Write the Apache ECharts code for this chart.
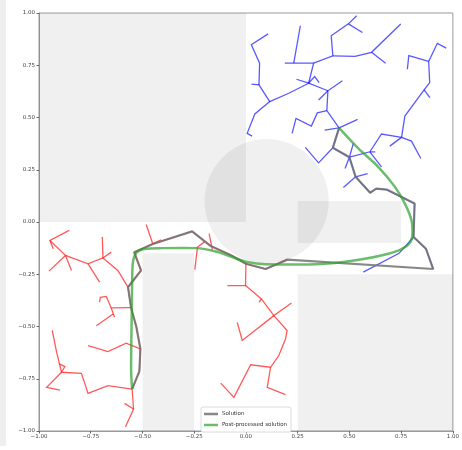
<!DOCTYPE html>
<html>
<head>
<meta charset="utf-8">
<script src="https://cdn.jsdelivr.net/npm/echarts@6/dist/echarts.min.js"></script>
<style>
  html, body { margin: 0; padding: 0; background: #fff; }
  #chart { width: 462px; height: 450px; }
</style>
</head>
<body>
<div id="chart"></div>
<script>
// axis ticks
const ticks = [-1, -0.75, -0.5, -0.25, 0, 0.25, 0.5, 0.75, 1];

// obstacles: [x0, y0, x1, y1] and [cx, cy, r]
const obstacleRects = [
  [-1, 0, 0, 1],
  [0.25, -0.1, 0.75, 0.1],
  [-0.5, -1, -0.25, -0.15],
  [0.25, -1, 1, -0.25]
];
const obstacleCircles = [[0.1, 0.1, 0.3]];

// start tree (red), each entry a chain of connected nodes
const redBranches = [
  [[-0.55, -0.8], [-0.515, -0.715], [-0.51, -0.607], [-0.53, -0.5], [-0.555, -0.41], [-0.57, -0.312],
   [-0.507, -0.232], [-0.54, -0.145], [-0.45, -0.105], [-0.26, -0.045], [-0.17, -0.115], [-0.07, -0.16],
   [0.0, -0.2], [0.095, -0.225], [0.2, -0.18]],
  [[-0.55, -0.8], [-0.543, -0.895], [-0.582, -0.98]],
  [[-0.543, -0.895], [-0.587, -0.868]],
  [[-0.55, -0.8], [-0.667, -0.783], [-0.763, -0.82], [-0.795, -0.724], [-0.891, -0.719], [-0.915, -0.623], [-0.936, -0.519]],
  [[-0.891, -0.719], [-0.963, -0.791], [-0.899, -0.804]],
  [[-0.891, -0.719], [-0.875, -0.692], [-0.902, -0.679]],
  [[-0.511, -0.607], [-0.579, -0.58], [-0.667, -0.62], [-0.763, -0.591]],
  [[-0.555, -0.41], [-0.651, -0.411], [-0.675, -0.356], [-0.704, -0.36], [-0.707, -0.384]],
  [[-0.651, -0.411], [-0.635, -0.456]],
  [[-0.642, -0.44], [-0.723, -0.496]],
  [[-0.57, -0.312], [-0.619, -0.232], [-0.691, -0.172], [-0.694, -0.072]],
  [[-0.691, -0.172], [-0.651, -0.144]],
  [[-0.691, -0.172], [-0.763, -0.2], [-0.872, -0.16], [-0.947, -0.088], [-0.854, -0.04]],
  [[-0.763, -0.2], [-0.707, -0.288]],
  [[-0.947, -0.088], [-0.931, -0.128]],
  [[-0.872, -0.16], [-0.952, -0.235]],
  [[-0.872, -0.16], [-0.843, -0.232]],
  [[-0.45, -0.105], [-0.482, -0.012]],
  [[-0.45, -0.105], [-0.41, -0.085]],
  [[-0.178, -0.056], [-0.162, -0.133]],
  [[-0.2, -0.095], [-0.234, -0.12], [-0.247, -0.228]],
  [[0.0, -0.2], [-0.002, -0.304], [-0.09, -0.304]],
  [[-0.002, -0.304], [0.075, -0.368], [0.135, -0.448], [0.22, -0.388]],
  [[0.075, -0.368], [0.063, -0.384]],
  [[0.135, -0.448], [0.199, -0.519], [0.191, -0.56], [0.159, -0.639], [0.119, -0.695], [0.023, -0.683], [-0.058, -0.839], [-0.122, -0.771]],
  [[0.119, -0.695], [0.103, -0.791], [0.191, -0.826]],
  [[0.135, -0.448], [-0.018, -0.567], [-0.042, -0.48]]
];

// goal tree (blue)
const blueBranches = [
  [[0.45, 0.45], [0.42, 0.355], [0.5, 0.31], [0.53, 0.216], [0.6, 0.14], [0.63, 0.16], [0.68, 0.155],
   [0.815, 0.088], [0.81, -0.072], [0.87, -0.128], [0.905, -0.225]],
  [[0.45, 0.45], [0.54, 0.491]],
  [[0.45, 0.45], [0.38, 0.44]],
  [[0.45, 0.45], [0.391, 0.533], [0.396, 0.628], [0.466, 0.676]],
  [[0.396, 0.628], [0.351, 0.584]],
  [[0.391, 0.533], [0.345, 0.522], [0.316, 0.459], [0.242, 0.496], [0.223, 0.424]],
  [[0.396, 0.628], [0.303, 0.664], [0.244, 0.683]],
  [[0.303, 0.664], [0.332, 0.696], [0.354, 0.667]],
  [[0.303, 0.664], [0.327, 0.76], [0.188, 0.76]],
  [[0.231, 0.76], [0.263, 0.939]],
  [[0.327, 0.76], [0.42, 0.795], [0.412, 0.891], [0.495, 0.948], [0.535, 0.987]],
  [[0.495, 0.948], [0.563, 0.907]],
  [[0.42, 0.795], [0.527, 0.792], [0.607, 0.812], [0.748, 0.947]],
  [[0.607, 0.812], [0.675, 0.76]],
  [[0.303, 0.664], [0.207, 0.616], [0.115, 0.576], [0.063, 0.656], [0.027, 0.66]],
  [[0.063, 0.656], [0.066, 0.76], [0.026, 0.848], [0.107, 0.9]],
  [[0.115, 0.576], [0.043, 0.517], [0.006, 0.424], [0.03, 0.411]],
  [[0.42, 0.355], [0.351, 0.283], [0.287, 0.357]],
  [[0.5, 0.31], [0.479, 0.256]],
  [[0.5, 0.31], [0.519, 0.376]],
  [[0.5, 0.31], [0.599, 0.336], [0.655, 0.421], [0.752, 0.405]],
  [[0.599, 0.336], [0.625, 0.336]],
  [[0.599, 0.336], [0.655, 0.264]],
  [[0.752, 0.405], [0.695, 0.363]],
  [[0.752, 0.405], [0.8, 0.387], [0.845, 0.304]],
  [[0.752, 0.405], [0.768, 0.507], [0.861, 0.632], [0.888, 0.667], [0.883, 0.768], [0.925, 0.855], [0.968, 0.832]],
  [[0.861, 0.632], [0.889, 0.595]],
  [[0.883, 0.768], [0.787, 0.796], [0.78, 0.731]],
  [[0.53, 0.216], [0.471, 0.165]],
  [[0.53, 0.216], [0.588, 0.232]],
  [[0.81, -0.072], [0.74, -0.15], [0.567, -0.24]]
];

// raw solution through both trees
const solutionPath = [
  [-0.55, -0.8], [-0.515, -0.715], [-0.51, -0.607], [-0.53, -0.5], [-0.555, -0.41], [-0.57, -0.312],
  [-0.507, -0.232], [-0.54, -0.145], [-0.45, -0.105], [-0.26, -0.045], [-0.17, -0.115], [-0.07, -0.16],
  [0.0, -0.2], [0.095, -0.225], [0.2, -0.18], [0.905, -0.225], [0.87, -0.128], [0.81, -0.072],
  [0.815, 0.088], [0.68, 0.155], [0.63, 0.16], [0.6, 0.14], [0.53, 0.216], [0.5, 0.31], [0.42, 0.355], [0.45, 0.45]
];

// smoothed solution
const smoothPath = [
  [-0.55, -0.8], [-0.555, -0.695], [-0.552, -0.45], [-0.55, -0.3], [-0.547, -0.2], [-0.53, -0.148],
  [-0.49, -0.129], [-0.4, -0.125], [-0.3, -0.124], [-0.24, -0.125], [-0.146, -0.141], [-0.066, -0.168],
  [0.0, -0.19], [0.095, -0.202], [0.255, -0.203], [0.415, -0.197], [0.575, -0.176], [0.688, -0.152],
  [0.752, -0.13], [0.792, -0.1], [0.805, -0.056], [0.8, 0.008], [0.768, 0.088], [0.72, 0.168],
  [0.639, 0.264], [0.543, 0.352], [0.45, 0.45]
];

const fmt = v => (v < 0 ? '\u2212' : '') + Math.abs(v).toFixed(2);

const axisCommon = {
  type: 'value',
  min: -1,
  max: 1,
  interval: 0.25,
  axisLine: { show: true, onZero: false, lineStyle: { color: '#9a9a9a', width: 1 } },
  axisTick: { show: true, inside: false, length: 2.5, lineStyle: { color: '#666' } },
  splitLine: { show: false },
  axisLabel: {
    color: '#444',
    fontSize: 5.5,
    fontFamily: 'DejaVu Sans',
    formatter: fmt
  }
};

const chart = echarts.init(document.getElementById('chart'));

chart.setOption({
  animation: false,
  backgroundColor: '#fff',
  graphic: [
    { type: 'rect', left: 0, top: 0, shape: { width: 6, height: 446 }, style: { fill: '#efefef' }, z: -1 }
  ],
  grid: {
    left: 39, right: 7, top: 13, bottom: 19,
    show: true, borderColor: '#9a9a9a', borderWidth: 1, backgroundColor: 'transparent'
  },
  xAxis: Object.assign({}, axisCommon, {
    axisLabel: Object.assign({}, axisCommon.axisLabel, { margin: 3 })
  }),
  yAxis: Object.assign({}, axisCommon, {
    axisLabel: Object.assign({}, axisCommon.axisLabel, { margin: 4 })
  }),
  legend: {
    data: ['Solution', 'Post-processed solution'],
    orient: 'vertical',
    left: 201,
    top: 407,
    icon: 'rect',
    itemWidth: 14,
    itemHeight: 2.5,
    itemGap: 5,
    padding: [4, 4, 4, 3],
    backgroundColor: '#fff',
    borderColor: '#dcdcdc',
    borderWidth: 1,
    borderRadius: 2,
    textStyle: { fontSize: 5.5, color: '#333', fontFamily: 'DejaVu Sans', padding: [0, 0, 0, -1] }
  },
  series: [
    {
      type: 'custom',
      name: 'rects',
      z: 1,
      silent: true,
      clip: true,
      data: obstacleRects,
      encode: { x: [0, 2], y: [1, 3] },
      renderItem: (params, api) => {
        const p0 = api.coord([api.value(0), api.value(3)]);
        const p1 = api.coord([api.value(2), api.value(1)]);
        return {
          type: 'rect',
          shape: { x: p0[0], y: p0[1], width: p1[0] - p0[0], height: p1[1] - p0[1] },
          style: { fill: 'rgba(0,0,0,0.06)' }
        };
      }
    },
    {
      type: 'custom',
      name: 'circles',
      z: 1,
      silent: true,
      clip: true,
      data: obstacleCircles,
      encode: { x: 0, y: 1 },
      renderItem: (params, api) => {
        const c = api.coord([api.value(0), api.value(1)]);
        const r = api.size([api.value(2), 0])[0];
        return {
          type: 'circle',
          shape: { cx: c[0], cy: c[1], r: r },
          style: { fill: 'rgba(0,0,0,0.06)' }
        };
      }
    },
    {
      type: 'lines',
      name: 'start tree',
      coordinateSystem: 'cartesian2d',
      polyline: true,
      silent: true,
      z: 2,
      data: redBranches.map(c => ({ coords: c })),
      lineStyle: { color: 'rgba(255,0,0,0.65)', width: 1.3, opacity: 1 }
    },
    {
      type: 'lines',
      name: 'goal tree',
      coordinateSystem: 'cartesian2d',
      polyline: true,
      silent: true,
      z: 2,
      data: blueBranches.map(c => ({ coords: c })),
      lineStyle: { color: 'rgba(0,0,255,0.65)', width: 1.3, opacity: 1 }
    },
    {
      type: 'line',
      name: 'Solution',
      z: 3,
      data: solutionPath,
      showSymbol: false,
      symbol: 'none',
      color: 'rgba(115,115,115,0.85)',
      lineStyle: { color: 'rgba(115,115,115,0.85)', width: 2.2 }
    },
    {
      type: 'line',
      name: 'Post-processed solution',
      z: 4,
      data: smoothPath,
      smooth: 0.35,
      showSymbol: false,
      symbol: 'none',
      color: 'rgba(44,160,44,0.7)',
      lineStyle: { color: 'rgba(44,160,44,0.7)', width: 2.5 }
    }
  ]
});
</script>
</body>
</html>
